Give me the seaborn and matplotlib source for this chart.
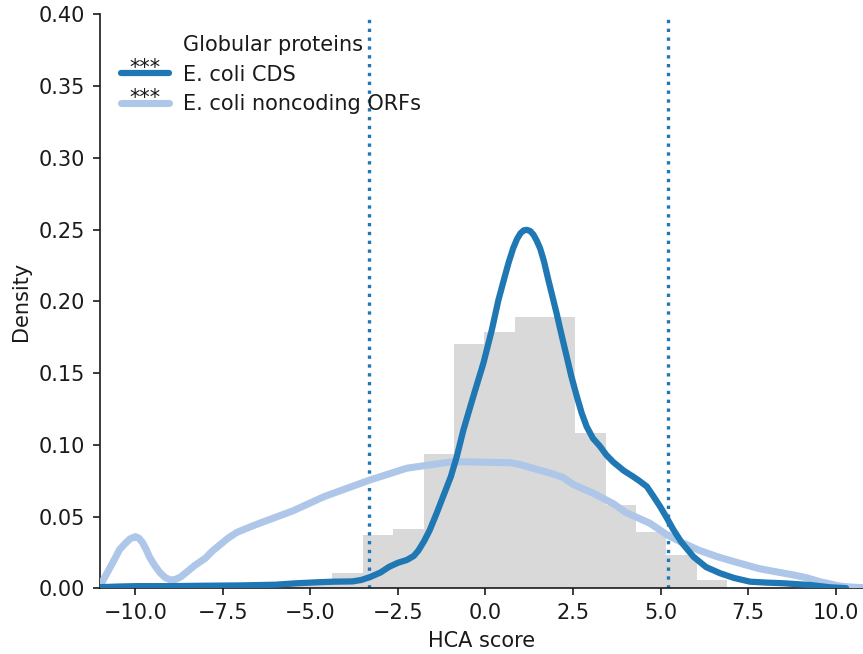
import numpy as np
import pandas as pd
import matplotlib
matplotlib.use("Agg")
import matplotlib.pyplot as plt
from matplotlib.legend_handler import HandlerLine2D
from matplotlib.lines import Line2D
from matplotlib.text import Text
from matplotlib.ticker import FormatStrFormatter
import seaborn as sns

# ---------------- data ----------------
# Globular proteins histogram (density)
hist_edges = [-6.10, -5.23, -4.37, -3.50, -2.63, -1.77, -0.90, -0.03, 0.84,
              1.70, 2.57, 3.44, 4.30, 5.17, 6.04, 6.91]
hist_density = [0.0045, 0.006, 0.0107, 0.037, 0.041, 0.0935, 0.170, 0.1787,
                0.1894, 0.1894, 0.108, 0.058, 0.0393, 0.023, 0.006]

# E. coli CDS density curve
cds_x = [-11.0, -10.5, -10.0, -9.0, -8.0, -7.0, -6.0, -5.4, -4.8, -4.35, -3.8,
         -3.55, -3.3, -3.0, -2.75, -2.5, -2.25, -2.05, -1.92, -1.75, -1.59,
         -1.4, -1.21, -0.99, -0.82, -0.63, -0.35, -0.06, 0.18, 0.37, 0.53,
         0.66, 0.79, 0.9, 1.0, 1.09, 1.18, 1.28, 1.37, 1.46, 1.56, 1.67, 1.79,
         2.03, 2.15, 2.32, 2.45, 2.61, 2.75, 2.89, 3.07, 3.27, 3.45, 3.65, 3.8,
         3.95, 4.22, 4.4, 4.61, 4.8, 4.99, 5.18, 5.37, 5.6, 5.94, 6.3, 6.7,
         7.1, 7.56, 8.0, 8.51, 9.27, 9.84, 10.3]
cds_y = [0.0008, 0.0012, 0.0015, 0.0015, 0.0018, 0.0020, 0.0025, 0.0035, 0.0042,
         0.0046, 0.0048, 0.0058, 0.0078, 0.011, 0.015, 0.0178, 0.0197, 0.0225,
         0.0262, 0.033, 0.0407, 0.052, 0.064, 0.0778, 0.0918, 0.1104, 0.1336,
         0.1569, 0.180, 0.201, 0.2155, 0.227, 0.237, 0.2435, 0.2475, 0.2495,
         0.2499, 0.249, 0.2465, 0.2425, 0.237, 0.228, 0.2155, 0.1918, 0.179,
         0.1615, 0.148, 0.1336, 0.122, 0.1127, 0.1045, 0.099, 0.093, 0.088,
         0.085, 0.082, 0.0778, 0.0748, 0.0709, 0.064, 0.0569, 0.049, 0.0407,
         0.032, 0.022, 0.0148, 0.0105, 0.0072, 0.0046, 0.004, 0.0035, 0.0023,
         0.0007, 0.0001]

# E. coli noncoding ORFs density curve
orf_x = [-11.0, -10.8, -10.6, -10.45, -10.3, -10.15, -10.0, -9.9, -9.8, -9.7,
         -9.6, -9.45, -9.3, -9.15, -9.0, -8.85, -8.7, -8.5, -8.3, -8.0, -7.8,
         -7.55, -7.35, -7.1, -6.6, -5.5, -4.6, -3.3, -2.25, -1.6, -1.0, -0.5,
         0.1, 0.7, 1.0, 1.3, 1.75, 2.2, 2.5, 3.1, 3.65, 4.0, 4.7, 5.2, 5.65,
         6.1, 6.6, 7.1, 7.8, 8.3, 8.8, 9.2, 9.55, 9.85, 10.1, 10.4, 10.75]
orf_y = [0.002, 0.011, 0.020, 0.027, 0.031, 0.0345, 0.036, 0.035, 0.032, 0.0275,
         0.022, 0.016, 0.011, 0.0075, 0.0058, 0.0062, 0.008, 0.012, 0.016, 0.021,
         0.026, 0.031, 0.035, 0.039, 0.044, 0.054, 0.064, 0.0755, 0.0837, 0.086,
         0.088, 0.0882, 0.0878, 0.0876, 0.0862, 0.084, 0.081, 0.0775, 0.0725,
         0.066, 0.059, 0.053, 0.0453, 0.037, 0.0315, 0.0265, 0.0222, 0.0186,
         0.0138, 0.0115, 0.0093, 0.0072, 0.0046, 0.003, 0.0016, 0.0009, 0.0005]

# thresholds (vertical dotted lines)
thresholds = [-3.32, 5.21]

labels = ["Globular proteins", "E. coli CDS", "E. coli noncoding ORFs"]
x_ticks = [-10.0, -7.5, -5.0, -2.5, 0.0, 2.5, 5.0, 7.5, 10.0]
y_ticks = [0.00, 0.05, 0.10, 0.15, 0.20, 0.25, 0.30, 0.35, 0.40]

# ---------------- style ----------------
sns.set_style("ticks")
plt.rcParams["font.family"] = ["DejaVu Sans"]
plt.rcParams["font.size"] = 10
plt.rcParams["text.color"] = "#1a1a1a"
plt.rcParams["axes.labelcolor"] = "#1a1a1a"
plt.rcParams["xtick.color"] = "#1a1a1a"
plt.rcParams["ytick.color"] = "#1a1a1a"
plt.rcParams["axes.edgecolor"] = "#1a1a1a"

DARK = "#1f77b4"
LIGHT = "#aec7e8"
GREY = "#d9d9d9"

dpi = 150
fig = plt.figure(figsize=(863 / dpi, 654 / dpi), dpi=dpi)
ax = fig.add_axes([100 / 863, 1 - 588.3 / 654, 1 - 100 / 863 - 0.0005,
                   (588.3 - 14.5) / 654])

edges = np.array(hist_edges)
centers = (edges[:-1] + edges[1:]) / 2
sns.histplot(x=centers, weights=hist_density, bins=hist_edges, stat="count",
             color=GREY, alpha=1, linewidth=0, ax=ax, zorder=1)

for t in thresholds:
    ax.axvline(t, color=DARK, linestyle=":", linewidth=1.6, zorder=2)

sns.lineplot(x=orf_x, y=orf_y, color=LIGHT, linewidth=3.4, ax=ax, zorder=3,
             solid_joinstyle="round", solid_capstyle="round")
sns.lineplot(x=cds_x, y=cds_y, color=DARK, linewidth=3.0, ax=ax, zorder=4,
             solid_joinstyle="round", solid_capstyle="round")

ax.set_xlim(-11.01, 10.77)
ax.set_ylim(0, 0.40)
ax.set_xticks(x_ticks)
ax.set_yticks(y_ticks)
ax.yaxis.set_major_formatter(FormatStrFormatter("%.2f"))
ax.set_xticklabels([("\u2212" if v < 0 else "") + f"{abs(v):.1f}" for v in x_ticks])
ax.set_xlabel("HCA score")
ax.set_ylabel("Density")
sns.despine(ax=ax)


class StarHandler(HandlerLine2D):
    def create_artists(self, legend, orig_handle, xdescent, ydescent, width,
                       height, fontsize, trans):
        arts = super().create_artists(legend, orig_handle, xdescent, ydescent,
                                      width, height, fontsize, trans)
        ly = (height - ydescent) / 2
        t = Text(width / 2 - xdescent, ly - 0.05 * fontsize, "***", ha="center",
                 va="baseline", fontsize=fontsize, color="#1a1a1a",
                 transform=trans)
        arts.append(t)
        return arts


h_glob = Line2D([], [], linestyle="none", marker=None)
h_cds = Line2D([], [], color=DARK, linewidth=3.0)
h_orf = Line2D([], [], color=LIGHT, linewidth=3.4)
ax.legend([h_glob, h_cds, h_orf], labels, loc="upper left", frameon=False,
          handlelength=2.3, handletextpad=0.7, fontsize=10,
          borderaxespad=0.6, labelspacing=0.45,
          handler_map={h_cds: StarHandler(), h_orf: StarHandler()})

fig.savefig("out.png", dpi=dpi)
